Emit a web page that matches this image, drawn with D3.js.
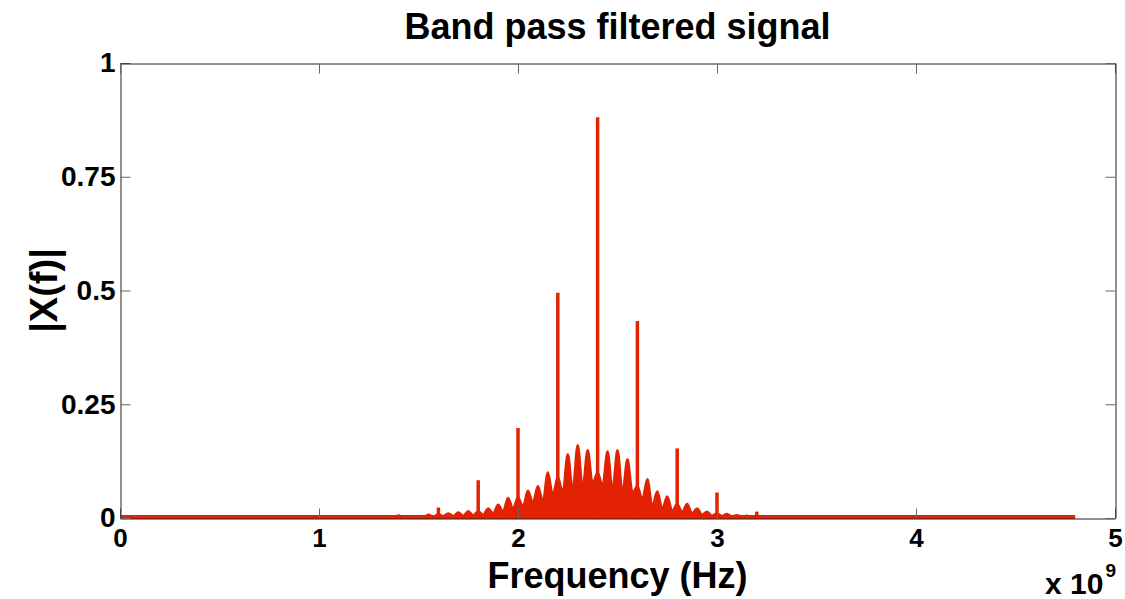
<!DOCTYPE html>
<html><head><meta charset="utf-8">
<script src="https://cdn.jsdelivr.net/npm/d3@7"></script>
<style>
body{margin:0;background:#fff;}
text{font-family:"Liberation Sans",Arial,sans-serif;font-weight:bold;fill:#000;}
</style></head>
<body><svg id="c" width="1125" height="599"></svg>
<script>
// ---- data (frequency in units of 1e9 Hz) ----
const xTicks = [0, 1, 2, 3, 4, 5];
const xTickLabels = ["0", "1", "2", "3", "4", "5"];
const yTicks = [0, 0.25, 0.5, 0.75, 1];
const yTickLabels = ["0", "0.25", "0.5", "0.75", "1"];

// flat floor of the spectrum
const baseFreq = [0, 4.8];
const baseVal = [0.002, 0.002];

// narrow harmonic spikes
const spikeFreq = [1.4, 1.6, 1.8, 2.0, 2.2, 2.4, 2.6, 2.8, 3.0, 3.2];
const spikeVal  = [0.008, 0.023, 0.083, 0.198, 0.495, 0.881, 0.433, 0.153, 0.056, 0.014];

// side-lobe comb: lobe centres and peak heights
const lobeFreq = [1.35,1.40,1.45,1.50,1.55,1.60,1.65,1.70,1.75,1.80,1.85,1.90,1.95,2.00,2.05,2.10,2.15,2.20,2.25,2.30,
                  2.35,2.40,2.45,2.50,2.55,2.60,2.65,2.70,2.75,2.80,2.85,2.90,2.95,3.00,3.05,3.10,3.15,3.20,3.25,3.30];
const lobeTop  = [0.002,0.003,0.003,0.004,0.007,0.008,0.010,0.012,0.015,0.015,0.021,0.029,0.044,0.045,0.060,0.070,0.100,0.090,0.140,0.160,
                  0.149,0.100,0.146,0.149,0.129,0.070,0.085,0.058,0.047,0.030,0.031,0.021,0.014,0.010,0.009,0.006,0.005,0.004,0.003,0.002];
// minima between consecutive lobes
const valleyVal = [0.002,0.002,0.002,0.002,0.003,0.004,0.004,0.005,0.006,0.007,0.010,0.014,0.020,0.025,0.033,0.036,0.050,0.055,0.060,0.066,
                   0.075,0.070,0.060,0.055,0.055,0.040,0.025,0.020,0.015,0.013,0.010,0.007,0.005,0.004,0.003,0.003,0.002,0.002,0.002];

// ---- layout ----
const L = 120, R = 1115, T = 63, B = 518;
const red = "#e32203";

const svg = d3.select("#c");
const x = d3.scaleLinear().domain([0, 5]).range([L, R]);
const y = d3.scaleLinear().domain([0, 1]).range([B, T]);

// envelope points: lobe peaks alternating with valleys
const env = [];
lobeFreq.forEach((f, i) => {
  env.push([f, lobeTop[i]]);
  if (i < valleyVal.length) env.push([(f + lobeFreq[i + 1]) / 2, valleyVal[i]]);
});

svg.append("defs").append("clipPath").attr("id", "clip")
  .append("rect").attr("x", L).attr("y", T - 2).attr("width", R - L).attr("height", B - T + 4);

const g = svg.append("g").attr("clip-path", "url(#clip)");

// baseline
g.append("path")
  .datum(baseFreq.map((f, i) => [f, baseVal[i]]))
  .attr("d", d3.line().x(d => x(d[0])).y(d => y(d[1])))
  .attr("stroke", red).attr("stroke-width", 4).attr("fill", "none");

// comb area
g.append("path")
  .datum(env)
  .attr("d", d3.area().x(d => x(d[0])).y0(y(0.002)).y1(d => y(d[1])).curve(d3.curveMonotoneX))
  .attr("fill", red).attr("stroke", red).attr("stroke-width", 2.5).attr("stroke-linejoin", "round");

// spikes
g.selectAll("line.spike").data(spikeFreq).enter().append("line")
  .attr("class", "spike")
  .attr("x1", d => x(d)).attr("x2", d => x(d))
  .attr("y1", y(0.002)).attr("y2", (d, i) => y(spikeVal[i]))
  .attr("stroke", red).attr("stroke-width", 3.5);

// ---- axes ----
function styleAxis(sel, size) {
  sel.selectAll(".domain").attr("stroke", "#222").attr("stroke-width", 1);
  sel.selectAll(".tick line").attr("stroke", "#666").attr("stroke-width", 1);
  sel.selectAll("text").attr("font-size", size).attr("font-family", "'Liberation Sans', Arial, sans-serif").attr("font-weight", "bold").attr("fill", "#000");
}

const xAxis = svg.append("g").attr("transform", `translate(0,${B + 0.5})`)
  .call(d3.axisBottom(x).tickValues(xTicks).tickFormat((d, i) => xTickLabels[i])
    .tickSizeInner(-10).tickSizeOuter(0).tickPadding(10));
styleAxis(xAxis, 26);

const yAxis = svg.append("g").attr("transform", `translate(${L + 0.5},0)`)
  .call(d3.axisLeft(y).tickValues(yTicks).tickFormat((d, i) => yTickLabels[i])
    .tickSizeInner(-10).tickSizeOuter(0).tickPadding(5));
styleAxis(yAxis, 28);

const xTop = svg.append("g").attr("transform", `translate(0,${T + 0.5})`)
  .call(d3.axisTop(x).tickValues(xTicks).tickFormat("").tickSizeInner(-10).tickSizeOuter(0));
styleAxis(xTop, 26);

const yRight = svg.append("g").attr("transform", `translate(${R + 0.5},0)`)
  .call(d3.axisRight(y).tickValues(yTicks).tickFormat("").tickSizeInner(-10).tickSizeOuter(0));
styleAxis(yRight, 26);

// ---- titles ----
svg.append("text").attr("x", (L + R) / 2).attr("y", 39).attr("text-anchor", "middle")
  .attr("font-size", 36).text("Band pass filtered signal");

svg.append("text").attr("x", (L + R) / 2).attr("y", 588).attr("text-anchor", "middle")
  .attr("font-size", 36).text("Frequency (Hz)");

svg.append("text").attr("transform", `translate(57,${(T + B) / 2}) rotate(-90)`).attr("text-anchor", "middle")
  .attr("font-size", 38).text("|X(f)|");

const exp = svg.append("text").attr("x", 1045).attr("y", 594).attr("font-size", 30);
exp.append("tspan").text("x 10");
exp.append("tspan").attr("font-size", 19).attr("dx", 2).attr("dy", -17).text("9");
</script></body></html>
